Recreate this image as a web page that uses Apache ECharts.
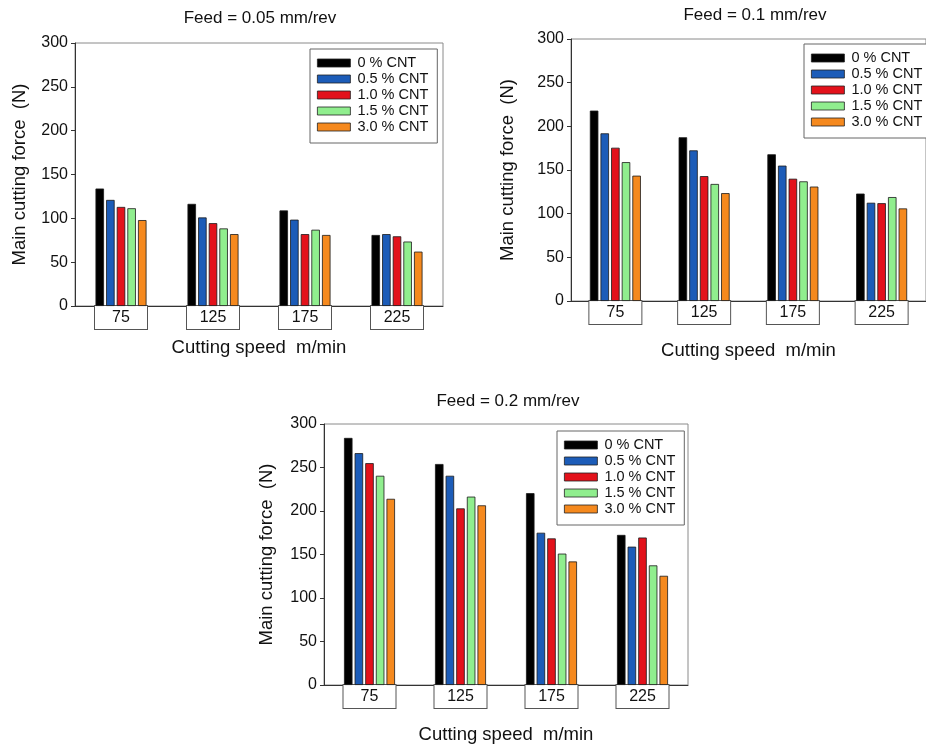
<!DOCTYPE html>
<html>
<head>
<meta charset="utf-8">
<script src="https://cdn.jsdelivr.net/npm/echarts@6/dist/echarts.min.js"></script>
<style>html,body{margin:0;padding:0;background:#fff;}#c{width:926px;height:745px;}</style>
</head>
<body>
<div id="c"></div>
<script>
// ---- data ----
var categories = ['75', '125', '175', '225'];
var seriesNames = ['0 % CNT', '0.5 % CNT', '1.0 % CNT', '1.5 % CNT', '3.0 % CNT'];
var titles = ['Feed = 0.05 mm/rev', 'Feed = 0.1 mm/rev', 'Feed = 0.2 mm/rev'];
var yTicks = [0, 50, 100, 150, 200, 250, 300];

// Feed = 0.05 mm/rev
var feed005_cnt0  = [134, 116.5, 109, 81];
var feed005_cnt05 = [121, 101, 98.5, 82];
var feed005_cnt10 = [113, 94.5, 82, 79.5];
var feed005_cnt15 = [111.5, 88.5, 87, 73.5];
var feed005_cnt30 = [98, 82, 81, 62];

// Feed = 0.1 mm/rev
var feed01_cnt0  = [218, 187.5, 168, 123];
var feed01_cnt05 = [192, 172.5, 155, 112.5];
var feed01_cnt10 = [175.5, 143, 140, 112];
var feed01_cnt15 = [159, 134, 137, 119];
var feed01_cnt30 = [143.5, 123.5, 131, 106];

// Feed = 0.2 mm/rev
var feed02_cnt0  = [284, 254, 220.5, 172.5];
var feed02_cnt05 = [266.5, 240.5, 175, 159];
var feed02_cnt10 = [255, 203, 168.5, 169.5];
var feed02_cnt15 = [240.5, 216.5, 151, 137.5];
var feed02_cnt30 = [214, 206.5, 142, 125.5];

var panels = [
  [feed005_cnt0, feed005_cnt05, feed005_cnt10, feed005_cnt15, feed005_cnt30],
  [feed01_cnt0, feed01_cnt05, feed01_cnt10, feed01_cnt15, feed01_cnt30],
  [feed02_cnt0, feed02_cnt05, feed02_cnt10, feed02_cnt15, feed02_cnt30]
];

// ---- styling / layout ----
var colors = ['#000000', '#1c5cb8', '#e3121b', '#90ee8e', '#f5891e'];
var font = 'Liberation Sans, Arial, sans-serif';
var grids = [
  {left: 75, top: 43, width: 368, height: 263},
  {left: 571, top: 39, width: 366, height: 262},
  {left: 324, top: 424, width: 364, height: 261}
];
var titlePos = [{left: 260, top: 10}, {left: 755, top: 7}, {left: 508, top: 393}];
var legendPos = [{left: 310, top: 49}, {left: 804, top: 44}, {left: 557, top: 431}];
var yNameGap = [46, 54, 48];
var xNameGap = [32, 40, 40];

var option = {
  backgroundColor: '#ffffff',
  animation: false,
  textStyle: {fontFamily: font},
  title: [], legend: [], grid: [], xAxis: [], yAxis: [], series: []
};

for (var p = 0; p < 3; p++) {
  option.title.push({
    text: titles[p], left: titlePos[p].left, top: titlePos[p].top, textAlign: 'center', padding: 0,
    textStyle: {fontFamily: font, fontSize: 17, fontWeight: 'normal', color: '#111'}
  });
  option.grid.push({
    left: grids[p].left, top: grids[p].top, width: grids[p].width, height: grids[p].height,
    show: true, borderColor: '#8a8a8a', borderWidth: 1, backgroundColor: 'transparent', containLabel: false
  });
  option.legend.push({
    data: seriesNames, orient: 'vertical', left: legendPos[p].left, top: legendPos[p].top,
    icon: 'rect',
    itemWidth: 33, itemHeight: 8, itemGap: 0, padding: [6, 9, 8, 7],
    borderColor: '#666', borderWidth: 1, backgroundColor: '#fff',
    selectedMode: false,
    itemStyle: {borderColor: '#222', borderWidth: 0.8},
    textStyle: {fontFamily: font, fontSize: 14.5, color: '#111', lineHeight: 16, padding: [0, 0, 0, 2]}
  });
  option.xAxis.push({
    type: 'category', gridIndex: p, data: categories,
    name: 'Cutting speed  m/min', nameLocation: 'middle', nameGap: xNameGap[p],
    nameTextStyle: {fontFamily: font, fontSize: 18.5, color: '#111'},
    axisLine: {show: true, lineStyle: {color: '#333', width: 1}},
    axisTick: {show: false},
    splitLine: {show: false},
    axisLabel: {
      interval: 0, margin: 0, fontFamily: font, fontSize: 16, color: '#111',
      width: 52, height: 17, lineHeight: 17, padding: [3, 0, 3, 0], align: 'center',
      borderColor: '#555', borderWidth: 1, backgroundColor: '#fff'
    }
  });
  option.yAxis.push({
    type: 'value', gridIndex: p, min: 0, max: 300, interval: 50,
    name: 'Main cutting force  (N)', nameLocation: 'middle', nameGap: yNameGap[p],
    nameTextStyle: {fontFamily: font, fontSize: 18.5, color: '#111'},
    axisLine: {show: true, lineStyle: {color: '#333', width: 1}},
    axisTick: {show: true, inside: false, length: 4, lineStyle: {color: '#333'}},
    splitLine: {show: false},
    axisLabel: {
      margin: 7, fontFamily: font, fontSize: 16, color: '#111',
      formatter: function (v) { return yTicks.indexOf(v) >= 0 ? String(v) : ''; }
    }
  });
  for (var s = 0; s < 5; s++) {
    option.series.push({
      type: 'bar', name: seriesNames[s], xAxisIndex: p, yAxisIndex: p,
      data: panels[p][s], barWidth: 8.5, barGap: '25%',
      itemStyle: {color: colors[s], borderColor: '#1a1a1a', borderWidth: 0.8},
      emphasis: {disabled: true}
    });
  }
}

var chart = echarts.init(document.getElementById('c'), null, {renderer: 'canvas'});
chart.setOption(option);
</script>
</body>
</html>
